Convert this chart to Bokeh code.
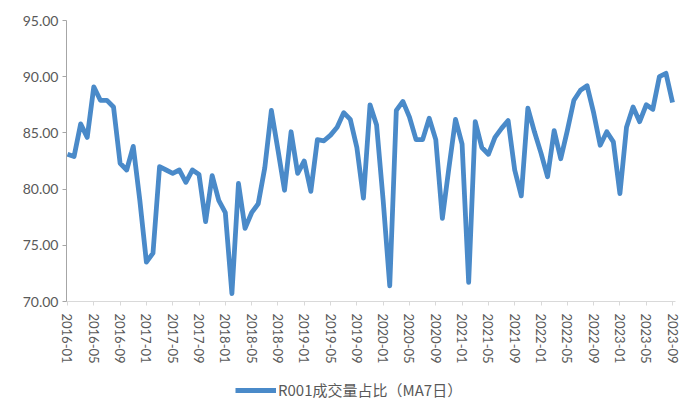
from bokeh.plotting import figure
from bokeh.layouts import column
from bokeh.models import FixedTicker, PrintfTickFormatter, Legend, LegendItem, Range1d, ColumnDataSource
from bokeh.embed import file_html
from bokeh.resources import INLINE

years = list(range(2016, 2024))
months = [f"{y}-{m:02d}" for y in years for m in range(1, 13)][:93]

ratio = [
    83.1, 82.9, 85.8, 84.6, 89.1, 87.9, 87.9, 87.3, 82.3, 81.7, 83.8, 79.0,
    73.5, 74.3, 82.0, 81.7, 81.4, 81.7, 80.6, 81.7, 81.3, 77.1, 81.2, 79.0,
    77.9, 70.7, 80.5, 76.5, 77.9, 78.7, 81.9, 87.0, 83.5, 79.9, 85.1, 81.4,
    82.5, 79.8, 84.4, 84.3, 84.8, 85.5, 86.8, 86.2, 83.7, 79.2, 87.5, 85.7,
    79.0, 71.4, 87.0, 87.8, 86.4, 84.4, 84.4, 86.3, 84.4, 77.4, 81.9, 86.2,
    84.0, 71.7, 86.0, 83.7, 83.1, 84.6, 85.4, 86.1, 81.7, 79.4, 87.2, 85.1,
    83.2, 81.1, 85.2, 82.7, 85.2, 87.9, 88.8, 89.2, 86.8, 83.9, 85.1, 84.2,
    79.6, 85.5, 87.3, 86.0, 87.5, 87.1, 90.0, 90.3, 87.7,
]
series_name = "R001成交量占比（MA7日）"
y_ticks = [70, 75, 80, 85, 90, 95]

LINE_COLOR = "#4a8ac9"
TEXT_COLOR = "#595959"

idx = list(range(len(months)))
src = ColumnDataSource(dict(x=idx, y=ratio, m=months))

p = figure(width=700, height=375, output_backend="svg", toolbar_location=None,
           x_range=Range1d(-0.15, 92.45), y_range=Range1d(70, 95),
           min_border_left=66, min_border_right=25, min_border_top=20, min_border_bottom=74)
p.outline_line_color = None
p.xgrid.visible = False
p.ygrid.visible = False
p.background_fill_color = "white"
p.border_fill_color = "white"

p.line("x", "y", source=src, line_color=LINE_COLOR, line_width=4.8, line_join="round")

tick_idx = idx[::4]
p.xaxis.ticker = FixedTicker(ticks=tick_idx)
p.xaxis.major_label_overrides = {i: months[i] for i in tick_idx}
p.xaxis.major_label_orientation = "vertical"
p.xaxis.axis_line_color = "#d9d9d9"
p.xaxis.major_tick_line_color = "#d9d9d9"
p.xaxis.major_tick_in = 0
p.xaxis.major_tick_out = 4
p.xaxis.minor_tick_line_color = None
p.xaxis.major_label_standoff = 8
p.xaxis.major_label_text_font = "Lato"
p.xaxis.major_label_text_font_size = "13px"
p.xaxis.major_label_text_color = TEXT_COLOR

p.yaxis.ticker = FixedTicker(ticks=y_ticks)
p.yaxis.formatter = PrintfTickFormatter(format="%.2f")
p.yaxis.axis_line_color = "#a6a6a6"
p.yaxis.major_tick_line_color = "#a6a6a6"
p.yaxis.major_tick_in = 0
p.yaxis.major_tick_out = 4
p.yaxis.minor_tick_line_color = None
p.yaxis.major_label_standoff = 4
p.yaxis.major_label_text_font = "Lato"
p.yaxis.major_label_text_font_size = "14px"
p.yaxis.major_label_text_color = TEXT_COLOR

# legend strip below the chart
leg = figure(width=700, height=44, output_backend="svg", toolbar_location=None,
             x_range=Range1d(0, 1), y_range=Range1d(1000, 1001),
             x_axis_type=None, y_axis_type=None,
             min_border_left=0, min_border_right=0, min_border_top=0, min_border_bottom=0)
leg.outline_line_color = None
leg.xgrid.visible = False
leg.ygrid.visible = False
lr = leg.line("x", "y", source=src, line_color=LINE_COLOR, line_width=4.8)

legend = Legend(items=[LegendItem(label=series_name, renderers=[lr])],
                location=(169, 19), orientation="horizontal",
                border_line_color=None, background_fill_alpha=0,
                padding=0, margin=0, glyph_width=41, glyph_height=20,
                label_text_font="Noto Sans CJK SC", label_text_font_size="15px",
                label_text_color=TEXT_COLOR, label_standoff=2)
leg.add_layout(legend, "center")

layout = column(p, leg, spacing=0)
open("out.html", "w").write(file_html(layout, INLINE))
